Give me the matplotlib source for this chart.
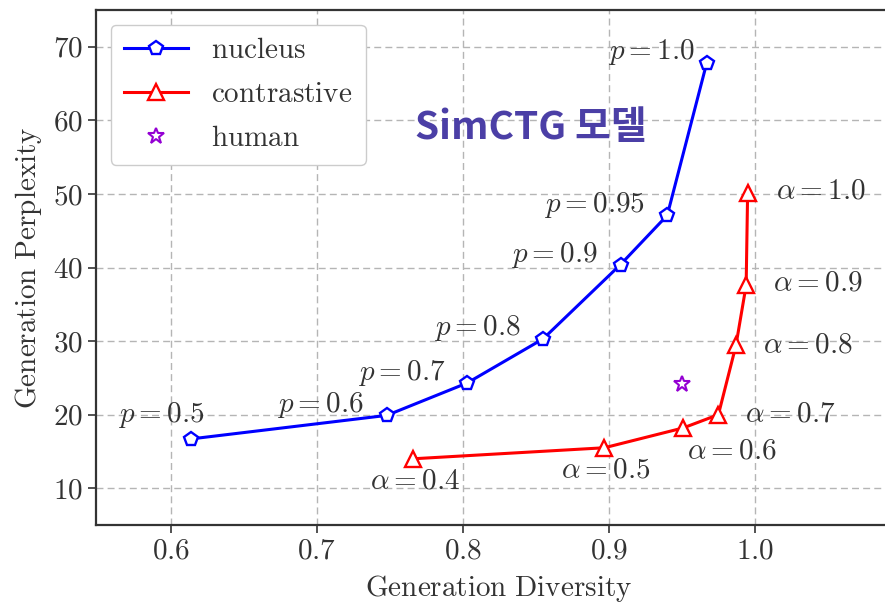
import numpy as np
import matplotlib
matplotlib.use("Agg")
import matplotlib.pyplot as plt

plt.rcParams["font.family"] = ["cmr10", "DejaVu Serif"]
plt.rcParams["mathtext.fontset"] = "cm"
plt.rcParams["axes.formatter.use_mathtext"] = True

# ── dane ─────────────────────────────────────────────────────────────────────
nucleus_p    = ["0.5", "0.6", "0.7", "0.8", "0.9", "0.95", "1.0"]
nucleus_div  = [0.614, 0.748, 0.803, 0.855, 0.908, 0.940, 0.967]
nucleus_ppl  = [16.7, 19.9, 24.3, 30.3, 40.4, 47.1, 67.8]

contr_alpha  = ["0.4", "0.5", "0.6", "0.7", "0.8", "0.9", "1.0"]
contr_div    = [0.766, 0.897, 0.951, 0.975, 0.987, 0.994, 0.995]
contr_ppl    = [14.0, 15.5, 18.2, 20.0, 29.4, 37.6, 50.1]

human_div    = [0.950]
human_ppl    = [24.1]

x_ticks = [0.6, 0.7, 0.8, 0.9, 1.0]
y_ticks = [10, 20, 30, 40, 50, 60, 70]

# przesuniecia podpisow (piksele)
nucleus_off = [(-30, 24), (-66, 10), (-65, 10), (-66, 11), (-66, 10), (-73, 10), (-55, 11)]
contr_off   = [(2, -23), (1, -23), (48, -23), (72, 0), (72, 0), (72, 2), (73, 2)]

FS  = 21
TXT = "#333333"

fig = plt.figure(figsize=(8.85, 6.04), dpi=100)
ax = fig.add_axes([0.1085, 0.1308, 0.9096, 0.8526])

ax.grid(True, linestyle="--", color="#b5b5b5", linewidth=1.0, dashes=(5, 3))
ax.set_axisbelow(True)

ax.plot(nucleus_div, nucleus_ppl, color="blue", lw=2.2, marker="p",
        markersize=10, markerfacecolor="white", markeredgewidth=1.7,
        label=r"$\mathrm{nucleus}$")
ax.plot(contr_div, contr_ppl, color="red", lw=2.2, marker="^",
        markersize=11, markerfacecolor="white", markeredgewidth=1.7,
        label=r"$\mathrm{contrastive}$")
ax.plot(human_div, human_ppl, linestyle="none", marker="*", color="#9400d3",
        markersize=12, markerfacecolor="white", markeredgewidth=1.5,
        label=r"$\mathrm{human}$")

for lab, x, y, off in zip(nucleus_p, nucleus_div, nucleus_ppl, nucleus_off):
    ax.annotate(rf"$p = {lab}$", (x, y), xytext=off, textcoords="offset pixels",
                ha="center", va="center", fontsize=FS, color=TXT)
for lab, x, y, off in zip(contr_alpha, contr_div, contr_ppl, contr_off):
    ax.annotate(rf"$\alpha = {lab}$", (x, y), xytext=off, textcoords="offset pixels",
                ha="center", va="center", fontsize=FS, color=TXT)

ax.set_xlim(0.549, 1.1)
ax.set_ylim(5, 75)
ax.set_xticks(x_ticks)
ax.set_yticks(y_ticks)
ax.set_xticklabels([rf"${v:.1f}$" for v in x_ticks])
ax.set_yticklabels([rf"${v}$" for v in y_ticks])
ax.tick_params(labelsize=FS, length=6, width=1.2, colors=TXT)
for s in ax.spines.values():
    s.set_linewidth(1.6)
    s.set_color(TXT)

ax.set_xlabel(r"$\mathrm{Generation\ Diversity}$", fontsize=FS, color=TXT, labelpad=6)
ax.set_ylabel(r"$\mathrm{Generation\ Perplexity}$", fontsize=FS, color=TXT, labelpad=6)

leg = ax.legend(loc="upper left", fontsize=FS, handlelength=2.2,
                borderaxespad=0.5, framealpha=1.0, edgecolor="#cccccc",
                labelspacing=0.6, borderpad=0.45, handletextpad=0.8)
for t in leg.get_texts():
    t.set_color(TXT)

fig.text(531 / 885, 1 - 127 / 604, "SimCTG 모델", fontsize=28, fontweight="bold",
         color="#4b3fa6", ha="center", va="center",
         family=["Noto Sans CJK KR", "DejaVu Sans"])

fig.savefig("out.png", dpi=100)
